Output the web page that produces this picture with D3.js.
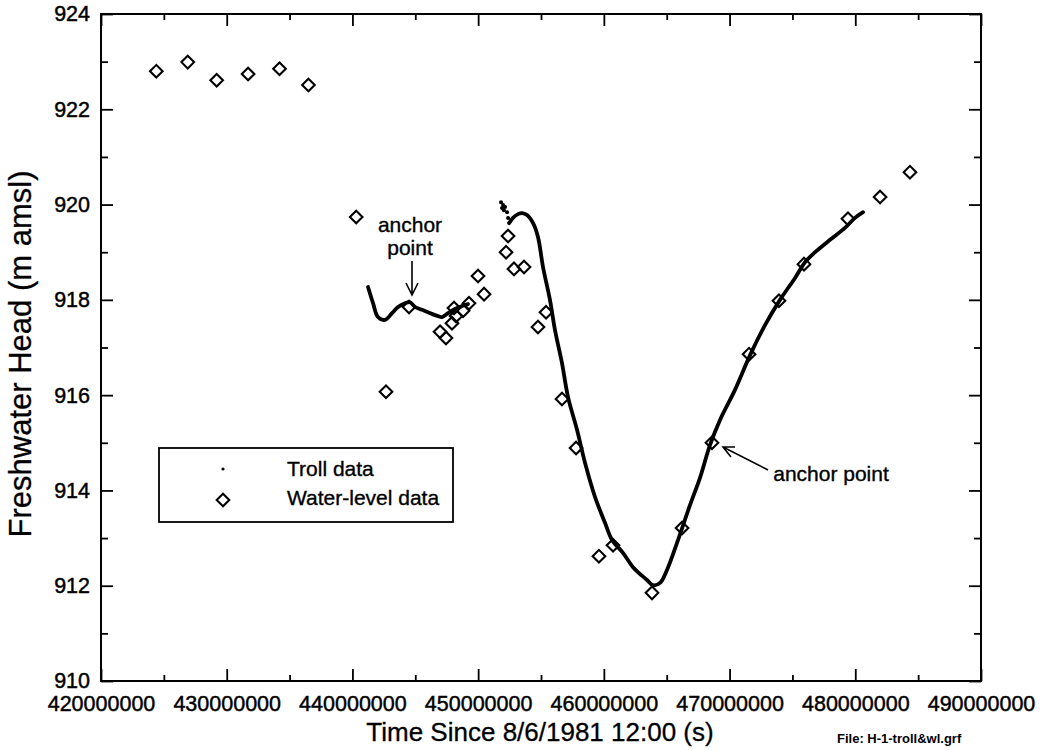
<!DOCTYPE html>
<html><head><meta charset="utf-8">
<script src="https://cdn.jsdelivr.net/npm/d3@7"></script>
<style>
body{margin:0;background:#fff;}
svg{font-family:"Liberation Sans",Arial,sans-serif;}
</style></head>
<body><svg id="c" width="1042" height="750"></svg>
<script>
// ---- data ----
const xTicks = [420000000,430000000,440000000,450000000,460000000,470000000,480000000,490000000];
const xMinor = [425000000,435000000,445000000,455000000,465000000,475000000,485000000];
const yTicks = [910,912,914,916,918,920,922,924];
const yMinor = [911,913,915,917,919,921,923];

// Water-level data (time in millions of s, head m amsl)
const wlTime = [424.4,426.9,429.2,431.7,434.2,436.5,440.3,442.67,444.5,446.97,447.44,447.92,448.24,448.08,448.80,449.27,449.99,450.47,452.38,452.22,452.85,453.65,455.40,454.76,456.67,457.79,459.61,460.73,463.83,466.22,468.6,471.55,473.93,475.92,479.42,481.97,484.35];
const wlHead = [922.80,922.99,922.61,922.74,922.85,922.51,919.74,916.07,917.85,917.33,917.20,917.51,917.66,917.83,917.77,917.93,918.50,918.12,919.34,919.00,918.65,918.69,917.74,917.43,915.92,914.89,912.62,912.85,911.85,913.21,915.0,916.86,917.98,918.75,919.70,920.16,920.68];

// Troll data, first segment
const troll1Time = [441.24,441.64,442.03,442.59,443.15,443.63,444.18,444.58,444.98,445.54,446.01,446.57,447.13,447.60,448.16,448.72,449.19];
const troll1Head = [918.27,917.93,917.64,917.58,917.72,917.85,917.93,917.95,917.85,917.79,917.74,917.68,917.64,917.72,917.81,917.87,917.91];
// Troll data, scattered start of second segment
const trollBurstTime = [451.82,451.98,452.14,451.90,452.30,452.38,452.05];
const trollBurstHead = [920.05,919.99,919.95,919.93,919.84,919.72,919.88];
// Troll data, second segment
const troll2Time = [452.46,452.77,453.17,453.49,453.89,454.37,454.76,455.16,455.72,456.11,456.67,457.15,457.87,458.50,459.30,460.09,460.65,461.52,462.32,463.43,463.91,464.47,465.02,465.82,466.85,467.64,468.44,469.24,470.43,471.63,472.82,474.01,475.21,476.00,476.80,477.99,479.18,479.98,480.62];
const troll2Head = [919.61,919.72,919.80,919.82,919.78,919.61,919.32,918.69,917.99,917.37,916.67,915.96,915.27,914.58,913.86,913.32,912.96,912.69,912.39,912.12,912.01,912.06,912.33,912.90,913.69,914.26,914.95,915.48,916.11,916.84,917.47,918.00,918.46,918.79,919.00,919.26,919.51,919.72,919.84];

// ---- chart ----
const svg = d3.select("#c");
const L=101,R=981,T=14,B=681;
const x = d3.scaleLinear().domain([420000000,490000000]).range([L,R]);
const y = d3.scaleLinear().domain([910,924]).range([B,T]);
const M = 1e6;

function styleAxis(g){
  g.select(".domain").remove();
  g.selectAll("line").attr("stroke","#000").attr("stroke-width",1.8);
  g.selectAll("text").attr("fill","#000").attr("font-size","21.5px").attr("stroke","#000").attr("stroke-width",0.45);
}
// bottom
svg.append("g").attr("transform",`translate(0,${B})`)
  .call(d3.axisBottom(x).tickValues(xTicks).tickSize(-12).tickPadding(15).tickFormat(d=>String(d))).call(styleAxis);
svg.append("g").attr("transform",`translate(0,${B})`)
  .call(d3.axisBottom(x).tickValues(xMinor).tickSize(-6).tickFormat("")).call(styleAxis);
// top
svg.append("g").attr("transform",`translate(0,${T})`)
  .call(d3.axisTop(x).tickValues(xTicks).tickSize(-12).tickFormat("")).call(styleAxis);
svg.append("g").attr("transform",`translate(0,${T})`)
  .call(d3.axisTop(x).tickValues(xMinor).tickSize(-6).tickFormat("")).call(styleAxis);
// left
svg.append("g").attr("transform",`translate(${L},0)`)
  .call(d3.axisLeft(y).tickValues(yTicks).tickSize(-12).tickPadding(11).tickFormat(d=>String(d))).call(styleAxis);
svg.append("g").attr("transform",`translate(${L},0)`)
  .call(d3.axisLeft(y).tickValues(yMinor).tickSize(-7).tickFormat("")).call(styleAxis);
// right
svg.append("g").attr("transform",`translate(${R},0)`)
  .call(d3.axisRight(y).tickValues(yTicks).tickSize(-12).tickFormat("")).call(styleAxis);
svg.append("g").attr("transform",`translate(${R},0)`)
  .call(d3.axisRight(y).tickValues(yMinor).tickSize(-7).tickFormat("")).call(styleAxis);
// frame
svg.append("rect").attr("x",L).attr("y",T).attr("width",R-L).attr("height",B-T)
  .attr("fill","none").attr("stroke","#000").attr("stroke-width",2);

// troll lines
const line = d3.line().x(d=>x(d[0]*M)).y(d=>y(d[1])).curve(d3.curveCatmullRom);
const t1 = troll1Time.map((t,i)=>[t,troll1Head[i]]);
const t2 = troll2Time.map((t,i)=>[t,troll2Head[i]]);
[t1,t2].forEach(d=>{
  svg.append("path").datum(d).attr("d",line).attr("fill","none")
    .attr("stroke","#000").attr("stroke-width",3.8).attr("stroke-linejoin","round").attr("stroke-linecap","round");
});
svg.append("g").selectAll("circle").data(trollBurstTime.map((t,i)=>[t,trollBurstHead[i]])).join("circle")
  .attr("cx",d=>x(d[0]*M)).attr("cy",d=>y(d[1])).attr("r",2).attr("fill","#000");

// diamonds
const dsz = 6.3;
const diamond = `M0,${-dsz}L${dsz},0L0,${dsz}L${-dsz},0Z`;
svg.append("g").selectAll("path").data(wlTime.map((t,i)=>[t,wlHead[i]])).join("path")
  .attr("transform",d=>`translate(${x(d[0]*M)},${y(d[1])})`)
  .attr("d",diamond).attr("fill","none").attr("stroke","#000").attr("stroke-width",2.1);

// axis titles
svg.append("text").attr("x",540).attr("y",741).attr("text-anchor","middle")
  .attr("font-size","26px").attr("stroke","#000").attr("stroke-width",0.3).text("Time Since 8/6/1981 12:00 (s)");
svg.append("text").attr("transform","translate(31,354) rotate(-90)").attr("text-anchor","middle")
  .attr("font-size","31px").attr("stroke","#000").attr("stroke-width",0.3).text("Freshwater Head (m amsl)");
svg.append("text").attr("x",837).attr("y",743).attr("font-size","13px").attr("font-weight","bold")
  .text("File: H-1-troll&wl.grf");

// annotations
const ann = svg.append("g").attr("font-size","21px").attr("stroke","#000").attr("stroke-width",0.35).attr("text-anchor","middle");
ann.append("text").attr("x",410).attr("y",232).text("anchor");
ann.append("text").attr("x",410).attr("y",255).text("point");
ann.append("text").attr("x",831).attr("y",481).text("anchor point");
const arr = svg.append("g").attr("stroke","#000").attr("stroke-width",1.6).attr("fill","none");
arr.append("path").attr("d","M412,261L412,295M406,283L412,295L418,283");
arr.append("path").attr("d","M768,470L723,447M735,447L723,447L731,457");

// legend
svg.append("rect").attr("x",159).attr("y",448).attr("width",294).attr("height",74)
  .attr("fill","#fff").attr("stroke","#000").attr("stroke-width",1.8);
svg.append("circle").attr("cx",223).attr("cy",469).attr("r",1.6).attr("fill","#000");
svg.append("path").attr("transform","translate(223,500)").attr("d",diamond)
  .attr("fill","none").attr("stroke","#000").attr("stroke-width",2.1);
const lg = svg.append("g").attr("font-size","21px").attr("stroke","#000").attr("stroke-width",0.35);
lg.append("text").attr("x",287).attr("y",476).text("Troll data");
lg.append("text").attr("x",287).attr("y",505).text("Water-level data");
</script></body></html>
